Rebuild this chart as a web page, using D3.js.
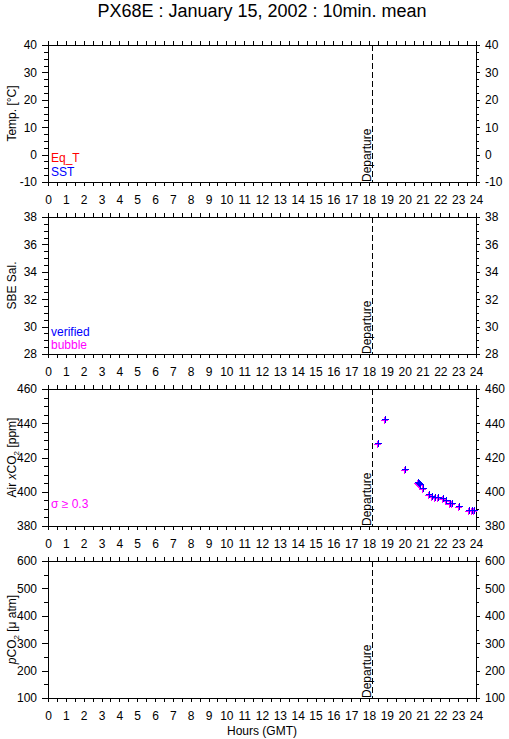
<!DOCTYPE html>
<html>
<head>
<meta charset="utf-8">
<script src="https://cdn.jsdelivr.net/npm/d3@7"></script>
<style>
body { margin: 0; background: #fff; }
svg { display: block; }
text { font-family: "Liberation Sans", Arial, sans-serif; }
</style>
</head>
<body>
<svg id="chart" width="509" height="739"></svg>
<script>
//variable definition
var WIDTH = 509;
var HEIGHT = 739;
var LEFT = 48;
var RIGHT = 476;
var PANEL_TOPS = [45, 217, 389, 561];
var PANEL_H = 137;

var TITLE = "PX68E : January 15, 2002 : 10min. mean";
var HOUR_TICKS = d3.range(0, 25);
var TEMP_TICKS = [-10, 0, 10, 20, 30, 40];
var SAL_TICKS = [28, 30, 32, 34, 36, 38];
var XCO2_TICKS = [380, 400, 420, 440, 460];
var PCO2_TICKS = [100, 200, 300, 400, 500, 600];
var DEPARTURE_HOUR = 18.15;

// air xCO2 10 min means (hours GMT, ppm)
var airHours = [18.52, 18.88, 20.02, 20.73, 20.81, 20.86, 21.03, 21.36, 21.52, 21.70, 21.89,
                22.15, 22.34, 22.53, 22.67, 23.05, 23.61, 23.79, 23.90];
var airXco2 = [428.3, 442.5, 413.2, 405.6, 405.0, 404.6, 402.4, 398.4, 397.4, 397.2, 397.0,
               396.1, 394.9, 393.6, 393.3, 391.4, 389.1, 389.4, 389.4];

var svg = d3.select("#chart").attr("shape-rendering", "crispEdges");
var xScale = d3.scaleLinear().domain([0, 24]).range([LEFT, RIGHT]);

svg.append("text")
    .attr("x", (LEFT + RIGHT) / 2)
    .attr("y", 17)
    .attr("text-anchor", "middle")
    .attr("font-size", 18)
    .text(TITLE);

function drawPanel(i, ticks, step, minorStep) {
    var top = PANEL_TOPS[i];
    var bottom = top + PANEL_H;
    var yScale = d3.scaleLinear()
        .domain([ticks[0], ticks[ticks.length - 1]])
        .range([bottom, top]);
    var minor = d3.range(ticks[0], ticks[ticks.length - 1] + 0.001, minorStep);
    var halfHours = d3.range(0, 24.01, 0.5);

    var g = svg.append("g");

    g.append("rect")
        .attr("x", LEFT + 0.5).attr("y", top + 0.5)
        .attr("width", RIGHT - LEFT).attr("height", PANEL_H)
        .attr("fill", "white").attr("stroke", "black").attr("stroke-width", 1);

    // x ticks, top and bottom
    g.append("g").attr("transform", `translate(0, ${bottom})`)
        .call(d3.axisBottom(xScale).tickValues(halfHours).tickSize(4).tickFormat(""));
    g.append("g").attr("transform", `translate(0, ${bottom})`)
        .call(d3.axisBottom(xScale).tickValues(HOUR_TICKS).tickSize(4).tickPadding(9)
            .tickFormat(d => "" + d));
    g.append("g").attr("transform", `translate(0, ${top})`)
        .call(d3.axisTop(xScale).tickValues(halfHours).tickSize(4).tickFormat(""));

    // y ticks, left and right
    g.append("g").attr("transform", `translate(${LEFT}, 0)`)
        .call(d3.axisLeft(yScale).tickValues(minor).tickSize(4).tickFormat(""));
    g.append("g").attr("transform", `translate(${LEFT}, 0)`)
        .call(d3.axisLeft(yScale).tickValues(ticks).tickSize(6).tickPadding(5)
            .tickFormat(d => "" + d));
    g.append("g").attr("transform", `translate(${RIGHT}, 0)`)
        .call(d3.axisRight(yScale).tickValues(minor).tickSize(3).tickFormat(""));
    g.append("g").attr("transform", `translate(${RIGHT}, 0)`)
        .call(d3.axisRight(yScale).tickValues(ticks).tickSize(4).tickPadding(5)
            .tickFormat(d => "" + d));

    g.selectAll(".domain").remove();
    g.selectAll(".tick line").attr("stroke", "black");
    g.selectAll(".tick text")
        .attr("font-family", "Liberation Sans, Arial, sans-serif")
        .attr("font-size", 12)
        .attr("fill", "black");

    // departure marker
    var xd = Math.round(xScale(DEPARTURE_HOUR)) + 0.5;
    g.append("line")
        .attr("x1", xd).attr("x2", xd)
        .attr("y1", top).attr("y2", bottom)
        .attr("stroke", "black")
        .attr("stroke-dasharray", "6,3");
    g.append("text")
        .attr("transform", `translate(${xd - 2}, ${bottom}) rotate(-90)`)
        .attr("font-size", 12)
        .text("Departure");

    return {g: g, y: yScale, top: top, bottom: bottom};
}

function yTitle(p, parts) {
    var t = svg.append("text")
        .attr("transform", `translate(16, ${(p.top + p.bottom) / 2}) rotate(-90)`)
        .attr("text-anchor", "middle")
        .attr("font-size", 12);
    parts.forEach(function(s) {
        var ts = t.append("tspan").text(s.t);
        if (s.i) ts.attr("font-style", "italic");
        if (s.sub) ts.attr("font-size", 8).attr("dy", 3);
        if (s.up) ts.attr("dy", -3);
    });
}

function legend(y, txt, color) {
    svg.append("text")
        .attr("x", 51).attr("y", y)
        .attr("font-size", 12)
        .attr("fill", color)
        .text(txt);
}

var p1 = drawPanel(0, TEMP_TICKS, 10, 2.5);
var p2 = drawPanel(1, SAL_TICKS, 2, 0.5);
var p3 = drawPanel(2, XCO2_TICKS, 20, 5);
var p4 = drawPanel(3, PCO2_TICKS, 100, 50);

yTitle(p1, [{t: "Temp. [°C]"}]);
yTitle(p2, [{t: "SBE Sal."}]);
yTitle(p3, [{t: "Air "}, {t: "x", i: true}, {t: "CO"}, {t: "2", sub: true}, {t: " [ppm]", up: true}]);
yTitle(p4, [{t: "p", i: true}, {t: "CO"}, {t: "2", sub: true}, {t: " [μ atm]", up: true}]);

legend(162, "Eq_T", "red");
legend(176, "SST", "blue");
legend(336, "verified", "blue");
legend(349, "bubble", "magenta");
legend(508, "σ ≥ 0.3", "magenta");

// air xCO2 points: flagged (magenta) under verified (blue)
var pts = airHours.map((h, k) => ({hour: h, value: airXco2[k]}));
var cross = "M-3,0.5H4M0.5,-3V4";
p3.g.selectAll(".pm").data(pts).enter().append("path")
    .attr("transform", d => `translate(${Math.round(xScale(d.hour)) - 1}, ${Math.round(p3.y(d.value)) + 1})`)
    .attr("d", cross)
    .attr("stroke", "magenta")
    .attr("fill", "none");
p3.g.selectAll(".pb").data(pts).enter().append("path")
    .attr("transform", d => `translate(${Math.round(xScale(d.hour))}, ${Math.round(p3.y(d.value))})`)
    .attr("d", cross)
    .attr("stroke", "blue")
    .attr("fill", "none");

svg.append("text")
    .attr("x", (LEFT + RIGHT) / 2)
    .attr("y", 735)
    .attr("text-anchor", "middle")
    .attr("font-size", 12)
    .text("Hours (GMT)");
</script>
</body>
</html>
